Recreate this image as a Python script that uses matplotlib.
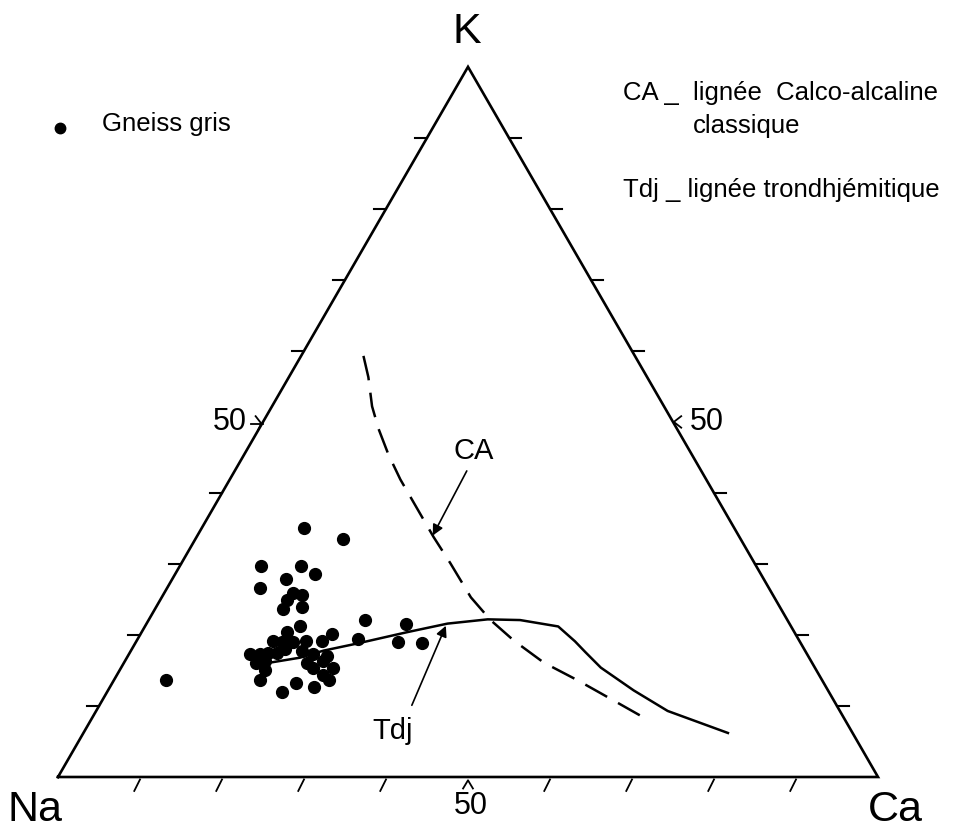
import numpy as np
import matplotlib
matplotlib.use("Agg")
from matplotlib import pyplot as plt
from matplotlib.lines import Line2D

plt.rcParams['font.family'] = ['Liberation Sans', 'DejaVu Sans']

# Gneiss gris, compositions en % (K, Na, Ca)
gneiss_K = [35.1, 33.5, 29.7, 29.7, 28.6, 27.9, 26.6, 25.9, 25.6, 24.9, 23.6, 23.9,
            21.2, 22.1, 21.5, 20.4, 20.1, 19.1, 19.0, 19.0, 19.1, 19.1, 19.5, 19.0,
            18.8, 17.3, 17.3, 17.5, 17.4, 18.0, 17.7, 17.3, 17.1, 16.0, 16.4, 16.1,
            16.4, 15.3, 15.3, 15.0, 14.4, 13.7, 13.7, 13.3, 12.7, 12.0, 13.6]
gneiss_Na = [52.5, 48.5, 60.4, 55.5, 54.4, 58.3, 62.1, 58.4, 57.4, 59.6, 60.7, 58.3,
             59.9, 51.5, 46.8, 61.9, 56.5, 64.2, 63.2, 61.8, 60.2, 58.2, 53.7, 49.0,
             46.2, 67.9, 66.7, 65.7, 64.6, 63.3, 61.4, 60.3, 58.7, 67.8, 66.5, 61.6,
             59.5, 61.3, 58.8, 67.2, 60.5, 68.5, 60.1, 64.3, 62.4, 66.7, 80.0]
gneiss_Ca = [12.4, 18.0, 9.9, 14.8, 17.0, 13.8, 11.3, 15.7, 17.0, 15.5, 15.7, 17.8,
             18.9, 26.4, 31.7, 17.7, 23.4, 16.7, 17.8, 19.2, 20.7, 22.7, 26.8, 32.0,
             35.0, 14.8, 16.0, 16.8, 18.0, 18.7, 20.9, 22.4, 24.2, 16.2, 17.1, 22.3,
             24.1, 23.4, 25.9, 17.8, 25.1, 17.8, 26.2, 22.4, 24.9, 21.3, 6.4]

# lignee calco-alcaline classique (CA)
ca_K = [59.3, 56.3, 52.2, 49.0, 45.4, 41.9, 37.7, 33.8, 30.1, 25.3, 22.1, 19.2, 16.1, 13.6, 11.2, 8.2]
ca_Na = [33.1, 34.0, 35.6, 36.4, 37.0, 37.3, 37.3, 37.3, 37.1, 37.0, 36.2, 34.8, 32.7, 29.8, 27.3, 24.2]
ca_Ca = [7.6, 9.7, 12.2, 14.6, 17.6, 20.8, 25.0, 28.9, 32.8, 37.7, 41.7, 46.0, 51.2, 56.6, 61.5, 67.6]

# lignee trondhjemitique (Tdj)
tdj_K = [16.0, 16.8, 17.8, 18.8, 20.4, 21.6, 22.2, 22.1, 21.2, 19.1, 17.6, 15.4, 12.2, 9.3, 6.2]
tdj_Na = [66.7, 62.1, 58.7, 54.1, 47.2, 41.7, 36.5, 32.6, 28.4, 27.4, 26.9, 26.1, 23.7, 21.0, 15.2]
tdj_Ca = [17.3, 21.1, 23.5, 27.1, 32.4, 36.7, 41.3, 45.3, 50.4, 53.5, 55.5, 58.5, 64.1, 69.7, 78.6]

ticks = [10, 20, 30, 40, 60, 70, 80, 90]
H = np.sqrt(3) / 2


def tern(K, Na, Ca):
    K, Na, Ca = np.asarray(K, float), np.asarray(Na, float), np.asarray(Ca, float)
    s = K + Na + Ca
    return (Ca + K / 2) / s, K / s * H


fig = plt.figure(figsize=(9.55, 8.33), dpi=100)
ax = fig.add_axes([0, 0, 1, 1])
ax.set_xlim(-58 / 820, 897 / 820)
ax.set_ylim(-56 / 820, 777 / 820)
ax.axis('off')

lw = 1.9
ax.plot([0, 1, 0.5, 0], [0, 0, H, 0], color='black', lw=lw, solid_joinstyle='miter')

# graduations
t = 12 / 820
for k in ticks:
    x, y = tern(k, 100 - k, 0)
    ax.plot([x - t, x], [y, y], color='black', lw=1.5)
    x, y = tern(k, 0, 100 - k)
    ax.plot([x, x + t], [y, y], color='black', lw=1.5)
    x, y = tern(0, 100 - k, k)
    ax.plot([x, x - 0.007], [y - 0.003, y - 0.017], color='black', lw=1.3)

# marques 50
x, y = tern(50, 50, 0)
ax.plot([x - t, x], [y - 0.002, y - 0.002], color='black', lw=1.3)
ax.plot([x - 0.009, x - 0.002, x - 0.006], [y + 0.007, y - 0.002, y - 0.010], color='black', lw=1.3)
ax.text(x - 0.020, y, '50', fontsize=22, ha='right', va='center')
x, y = tern(50, 0, 50)
ax.plot([x + 0.010, x + 0.001, x + 0.010], [y + 0.007, y, y - 0.007], color='black', lw=1.3)
ax.text(x + 0.021, y, '50', fontsize=22, ha='left', va='center')
x, y = tern(0, 50, 50)
ax.plot([x - 0.006, x, x + 0.006], [y - 0.014, y - 0.004, y - 0.014], color='black', lw=1.3)
ax.text(x + 0.003, y - 0.035, '50', fontsize=22, ha='center', va='center')

# courbes
cx, cy = tern(ca_K, ca_Na, ca_Ca)
ax.plot(cx, cy, color='black', lw=1.8, dashes=(10, 5))
tx, ty = tern(tdj_K, tdj_Na, tdj_Ca)
ax.plot(tx, ty, color='black', lw=1.8, solid_joinstyle='round')

gx, gy = tern(gneiss_K, gneiss_Na, gneiss_Ca)
ax.plot(gx, gy, 'o', color='black', markersize=8.5, linestyle='none')

# etiquettes des courbes
arrow = dict(arrowstyle='-|>', color='black', lw=1.2, mutation_scale=16, shrinkA=0, shrinkB=0)
ax.annotate('', xy=tern(34.0, 37.3, 28.7), xytext=tern(43.1, 28.6, 28.3), arrowprops=arrow)
ax.annotate('', xy=tern(21.3, 42.05, 36.65), xytext=tern(10.1, 51.8, 38.1), arrowprops=arrow)
ax.text(*tern(45.9, 26.4, 27.7), 'CA', fontsize=21, ha='center', va='center')
ax.text(*tern(6.5, 56.0, 37.5), 'Tdj', fontsize=21, ha='center', va='center')

# sommets
fig.text(467 / 955, 1 - 32 / 833, 'K', fontsize=31, ha='center', va='center')
fig.text(35 / 955, 1 - 810 / 833, 'Na', fontsize=31, ha='center', va='center')
fig.text(895 / 955, 1 - 810 / 833, 'Ca', fontsize=31, ha='center', va='center')

# legende
fig.add_artist(Line2D([60 / 955], [1 - 128 / 833], marker='o', markersize=7.5,
                      color='black', linestyle='none', transform=fig.transFigure))
fig.text(102 / 955, 1 - 124 / 833, 'Gneiss gris', fontsize=18.5, ha='left', va='center')
fig.text(623 / 955, 1 - 100 / 833, 'CA _  lignée  Calco-alcaline', fontsize=18.5, ha='left', va='baseline')
fig.text(693 / 955, 1 - 133 / 833, 'classique', fontsize=18.5, ha='left', va='baseline')
fig.text(623 / 955, 1 - 197 / 833, 'Tdj _ lignée trondhjémitique', fontsize=18.5, ha='left', va='baseline')

fig.savefig('out.png', dpi=100)
